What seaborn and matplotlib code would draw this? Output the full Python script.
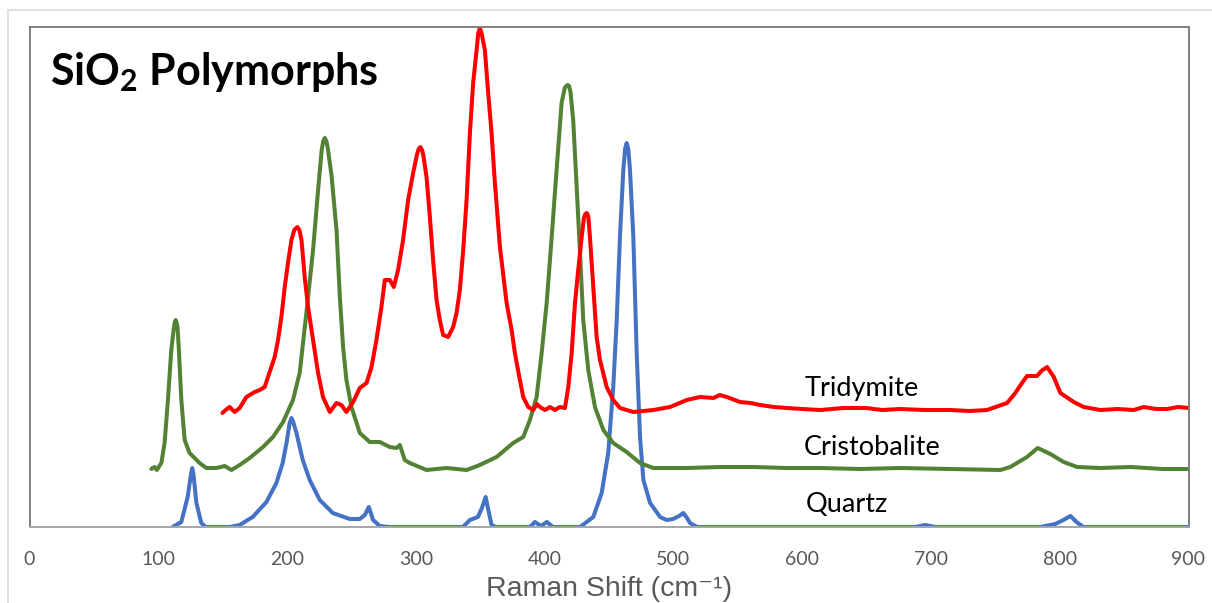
import matplotlib
matplotlib.use("Agg")
import matplotlib.pyplot as plt
from matplotlib.lines import Line2D
import seaborn as sns
import pandas as pd

# Raman spectra of three SiO2 polymorphs (arbitrary intensity units, offset per phase)
quartz_shift = [111.1, 117.9, 122.8, 125.4, 126.4, 127.4, 129.6, 133.4, 136.8, 155.4,
                163.2, 173.3, 184.0, 191.7, 196.6, 199.7, 202.0, 203.4, 204.8, 207.3,
                212.2, 217.6, 225.4, 235.5, 248.7, 256.5, 260.4, 263.5, 266.8, 272.0,
                279.8, 336.5, 342.0, 348.2, 351.3, 354.2, 356.3, 358.8, 362.2, 388.6,
                392.5, 397.1, 401.8, 406.5, 427.5, 437.8, 444.3, 449.4, 453.3, 456.0,
                458.5, 461.1, 462.5, 463.7, 465.0, 466.3, 468.9, 471.5, 474.1, 476.7,
                481.9, 489.7, 494.8, 499.7, 504.4, 507.7, 510.6, 512.9, 518.4, 687.8,
                695.6, 703.4, 785.0, 796.6, 802.8, 808.3, 813.0, 818.4, 900.0]
quartz_int = [0, 5, 30, 53, 59, 52, 24, 4, 0, 0,
              2, 10, 25, 44, 64, 85, 104, 109, 105, 94,
              67, 47, 27, 14, 8, 8, 12, 20, 7, 1,
              0, 0, 7, 10, 19, 30, 17, 2, 0, 0,
              5, 1, 5, 0, 0, 10, 34, 74, 140, 207,
              290, 357, 378, 384, 378, 357, 290, 174, 90, 47,
              24, 10, 7, 8, 11, 14, 9, 4, 0, 0,
              2, 0, 0, 3, 7, 11, 5, 0, 0]

cristobalite_shift = [94.6, 97.1, 98.9, 102.4, 104.9, 107.5, 110.1, 111.9, 112.7, 113.5,
                      114.3, 115.0, 116.0, 117.9, 120.5, 124.3, 132.1, 137.3, 145.1, 151.6,
                      156.8, 163.2, 171.0, 181.3, 189.1, 196.9, 204.6, 209.8, 215.0, 220.2,
                      224.1, 226.9, 228.1, 229.3, 230.5, 231.6, 234.5, 238.4, 241.0, 243.5,
                      246.1, 250.0, 256.5, 264.2, 272.0, 279.8, 285.0, 287.6, 291.4, 295.3,
                      308.3, 323.8, 339.4, 349.7, 362.7, 375.6, 383.4, 388.6, 393.8, 397.7,
                      401.6, 405.5, 409.3, 413.2, 415.6, 416.8, 417.9, 419.0, 420.1, 422.2,
                      424.9, 427.5, 430.0, 433.9, 439.1, 445.6, 453.3, 463.7, 474.1, 484.4,
                      510.4, 536.3, 562.2, 588.0, 614.0, 645.0, 676.2, 715.0, 753.9, 761.6,
                      774.6, 782.9, 792.7, 803.1, 813.5, 831.6, 855.0, 880.0, 900.0]
cristobalite_int = [58, 60, 57, 64, 84, 127, 177, 197, 204, 207,
                    204, 199, 177, 127, 87, 74, 64, 59, 59, 61,
                    57, 62, 69, 80, 90, 105, 127, 154, 214, 277,
                    337, 377, 386, 389, 386, 379, 352, 297, 230, 180,
                    147, 120, 94, 85, 85, 80, 79, 82, 67, 64,
                    57, 59, 57, 62, 70, 84, 90, 107, 130, 174,
                    224, 290, 357, 424, 439, 441, 442, 441, 435, 407,
                    340, 274, 207, 157, 120, 97, 84, 75, 64, 59,
                    59, 60, 60, 59, 59, 58, 59, 58, 57, 60,
                    70, 79, 73, 65, 60, 59, 60, 58, 58]

tridymite_shift = [149.8, 152.3, 155.4, 159.3, 163.2, 168.4, 174.9, 178.8, 182.6, 186.5,
                   190.4, 193.0, 195.6, 198.2, 200.7, 203.4, 205.6, 208.0, 209.6, 211.2,
                   213.7, 216.3, 220.2, 224.1, 227.9, 233.2, 238.4, 242.2, 246.1, 251.3,
                   256.5, 261.7, 265.6, 269.4, 273.3, 275.9, 279.8, 282.9, 286.2, 290.1,
                   294.0, 297.9, 300.8, 302.2, 303.6, 304.8, 305.8, 308.3, 310.9, 313.4,
                   316.1, 318.6, 321.2, 325.1, 329.0, 331.6, 334.2, 336.8, 339.4, 342.0,
                   344.5, 347.2, 348.5, 349.7, 351.0, 353.6, 356.2, 358.8, 361.4, 365.3,
                   370.5, 374.4, 376.9, 380.8, 383.4, 387.3, 391.2, 394.0, 396.4, 400.3,
                   404.1, 408.0, 411.9, 415.8, 418.4, 421.0, 423.6, 426.1, 428.8, 430.5,
                   431.6, 432.7, 433.9, 435.2, 437.8, 440.4, 443.0, 448.2, 453.3, 458.5,
                   468.9, 484.4, 497.4, 510.4, 520.7, 531.1, 536.0, 541.5, 551.8, 560.0,
                   567.3, 578.0, 588.1, 600.0, 614.0, 632.0, 649.8, 662.0, 676.2, 695.0,
                   715.0, 730.0, 743.5, 759.1, 765.5, 770.7, 774.6, 782.4, 785.7, 790.2,
                   795.4, 800.5, 810.9, 818.6, 831.6, 845.0, 857.5, 865.3, 875.0, 883.4,
                   892.0, 900.0]
tridymite_int = [114, 117, 120, 115, 119, 130, 135, 137, 140, 155,
                 170, 187, 210, 240, 264, 287, 297, 300, 297, 287,
                 250, 220, 187, 154, 130, 115, 124, 122, 115, 125,
                 139, 144, 160, 187, 220, 247, 247, 240, 257, 287,
                 327, 354, 372, 378, 380, 377, 372, 350, 310, 267,
                 227, 207, 192, 190, 200, 214, 237, 277, 327, 394,
                 444, 477, 494, 499, 494, 477, 434, 394, 344, 280,
                 224, 197, 174, 147, 130, 120, 117, 123, 120, 117,
                 120, 117, 120, 119, 140, 174, 224, 257, 290, 309,
                 313, 314, 311, 290, 240, 190, 167, 140, 127, 119,
                 115, 117, 120, 127, 130, 129, 132, 130, 125, 124,
                 122, 120, 119, 118, 117, 119, 119, 117, 118, 117,
                 117, 116, 117, 124, 134, 144, 151, 151, 156, 160,
                 150, 134, 125, 120, 117, 118, 117, 120, 118, 118,
                 120, 119]

phase_names = ["Quartz", "Cristobalite", "Tridymite"]
phase_colors = ["#4472C4", "#548235", "#FF0000"]
x_ticks = [0, 100, 200, 300, 400, 500, 600, 700, 800, 900]

spectra = [
    pd.DataFrame({"shift": quartz_shift, "intensity": quartz_int}),
    pd.DataFrame({"shift": cristobalite_shift, "intensity": cristobalite_int}),
    pd.DataFrame({"shift": tridymite_shift, "intensity": tridymite_int}),
]

sns.set_theme(style="white")
plt.rcParams["mathtext.fontset"] = "custom"
plt.rcParams["mathtext.rm"] = "Lato"
plt.rcParams["mathtext.bf"] = "Lato:bold"

fig = plt.figure(figsize=(12.12, 6.03), dpi=100)
ax = fig.add_axes([29.5 / 1212, 76 / 603, 1159 / 1212, 500 / 603])

for df, color in zip(spectra, phase_colors):
    sns.lineplot(data=df, x="shift", y="intensity", ax=ax, color=color,
                 linewidth=2.9, estimator=None, sort=False, legend=False,
                 solid_joinstyle="round", solid_capstyle="round")

ax.set_xlim(0, 900)
ax.set_ylim(0, 500)
ax.set_xticks(x_ticks)
ax.set_xticklabels([str(t) for t in x_ticks], fontsize=14, color="#595959",
                   family="Lato")
ax.set_yticks([])
ax.tick_params(axis="x", length=0, pad=17)
ax.set_ylabel("")
ax.set_xlabel("Raman Shift (cm⁻¹)", fontsize=20.5, color="#595959",
              family=["Liberation Sans", "DejaVu Sans"], labelpad=6)

for side in ["left", "top", "right"]:
    ax.spines[side].set_color("#7f7f7f")
    ax.spines[side].set_linewidth(1.4)
ax.spines["bottom"].set_color("#a6a6a6")
ax.spines["bottom"].set_linewidth(1.4)

# Phase labels beside the flat part of each trace
label_pos = {"Tridymite": (602, 131), "Cristobalite": (601.5, 72), "Quartz": (603, 15)}
for name in phase_names:
    lx, ly = label_pos[name]
    ax.text(lx, ly, name, fontsize=19.5, color="black", family="Lato",
            ha="left", va="baseline")

ax.text(0.0177, 0.884, "SiO$_\\mathbf{2}$ Polymorphs", transform=ax.transAxes,
        fontsize=31, fontweight="bold", family="Lato", color="black",
        ha="left", va="baseline")

# Light outer chart-area border
fig.add_artist(Line2D([8 / 1212, 1.0], [1 - 9.5 / 603, 1 - 9.5 / 603],
                      transform=fig.transFigure, color="#d9d9d9", linewidth=1.2))
fig.add_artist(Line2D([8 / 1212, 8 / 1212], [0.0, 1 - 9.5 / 603],
                      transform=fig.transFigure, color="#d9d9d9", linewidth=1.2))

fig.savefig("out.png", dpi=100, facecolor="white")
